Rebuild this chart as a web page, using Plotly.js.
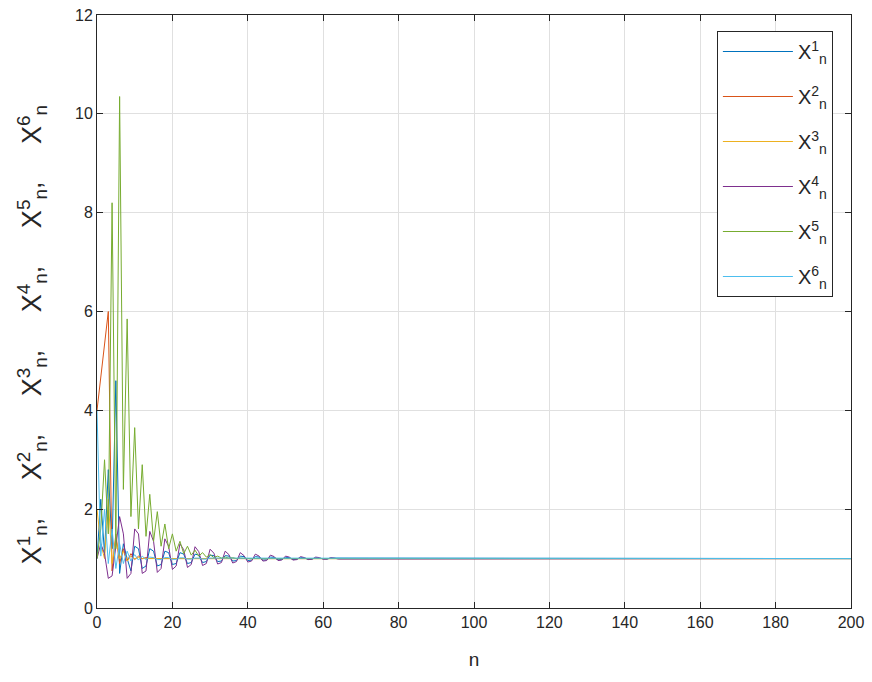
<!DOCTYPE html>
<html>
<head>
<meta charset="utf-8">
<script src="https://cdn.plot.ly/plotly-3.0.1.min.js"></script>
<style>html,body{margin:0;padding:0;background:#fff;}#chart{width:872px;height:682px;}</style>
</head>
<body>
<div id="chart"></div>
<script>
// step index n (explicit), last point is n = 200
const n = [0,1,2,3,4,5,6,7,8,9,10,11,12,13,14,15,16,17,18,19,20,21,22,23,24,25,26,27,28,29,30,
  31,32,33,34,35,36,37,38,39,40,41,42,43,44,45,46,47,48,49,50,51,52,53,54,55,56,57,58,59,60,61,62,63,64,200];

const x1 = [1.0,2.2,1.1,2.8,1.2,4.6,0.7,1.3,1.0,0.75,1.25,1.2,0.8,0.85,1.2,1.15,0.85,0.88,1.15,1.12,0.88,
  0.9,1.12,1.09,0.9,0.92,1.09,1.07,0.92,0.94,1.07,1.06,0.94,0.95,1.06,1.05,0.95,0.96,1.05,1.04,0.96,
  0.97,1.04,1.03,0.97,0.975,1.03,1.025,0.975,0.98,1.025,1.02,0.98,0.985,1.02,1.015,0.985,0.99,1.015,1.01,0.99,
  0.99,1.01,1.01,0.995,1.0];

const x2 = [4.0,4.7,5.35,6.0,0.75,1.5,0.9,1.2,0.95,1.1,0.98,1.05,1.0,1.02,1.0,1.01,1.0,1.0,1.0,1.0,1.0,
  1.0,1.0,1.0,1.0,1.0,1.0,1.0,1.0,1.0,1.0,1.0,1.0,1.0,1.0,1.0,1.0,1.0,1.0,1.0,1.0,
  1.0,1.0,1.0,1.0,1.0,1.0,1.0,1.0,1.0,1.0,1.0,1.0,1.0,1.0,1.0,1.0,1.0,1.0,1.0,1.0,
  1.0,1.0,1.0,1.0,1.0];

const x3 = [2.0,1.3,1.0,2.2,0.9,1.4,1.0,1.15,0.95,1.05,1.0,1.02,1.0,1.0,1.0,1.0,1.0,1.0,1.0,1.0,1.0,
  1.0,1.0,1.0,1.0,1.0,1.0,1.0,1.0,1.0,1.0,1.0,1.0,1.0,1.0,1.0,1.0,1.0,1.0,1.0,1.0,
  1.0,1.0,1.0,1.0,1.0,1.0,1.0,1.0,1.0,1.0,1.0,1.0,1.0,1.0,1.0,1.0,1.0,1.0,1.0,1.0,
  1.0,1.0,1.0,1.0,1.0];

const x4 = [1.0,1.3,1.1,0.6,0.65,1.2,1.85,1.5,0.6,0.7,1.6,1.5,0.7,0.75,1.55,1.35,0.72,0.8,1.4,1.25,0.78,
  0.85,1.3,1.18,0.82,0.88,1.24,1.14,0.86,0.9,1.19,1.11,0.89,0.92,1.15,1.08,0.91,0.94,1.12,1.06,0.93,
  0.95,1.09,1.05,0.95,0.96,1.07,1.04,0.96,0.97,1.05,1.03,0.97,0.98,1.04,1.02,0.98,0.985,1.03,1.02,0.985,
  0.99,1.02,1.01,0.99,1.0];

const x5 = [1.0,1.6,3.0,1.5,8.2,1.2,10.35,2.4,5.85,1.85,3.65,1.6,2.9,1.45,2.3,1.35,1.95,1.25,1.7,1.2,1.5,
  1.15,1.35,1.1,1.25,1.07,1.17,1.05,1.12,1.03,1.08,1.02,1.05,1.01,1.03,1.01,1.02,1.0,1.01,1.0,1.0,
  1.0,1.0,1.0,1.0,1.0,1.0,1.0,1.0,1.0,1.0,1.0,1.0,1.0,1.0,1.0,1.0,1.0,1.0,1.0,1.0,
  1.0,1.0,1.0,1.0,1.0];

const x6 = [4.0,1.05,2.0,0.9,1.6,0.8,1.3,0.9,1.15,0.95,1.08,0.97,1.05,0.98,1.03,1.02,0.98,0.98,1.02,1.02,0.985,
  0.985,1.015,1.015,0.99,0.99,1.01,1.01,0.99,0.99,1.01,1.01,0.995,0.995,1.005,1.005,0.995,0.995,1.005,1.005,0.995,
  0.995,1.005,1.005,1.0,1.0,1.0,1.0,1.0,1.0,1.0,1.0,1.0,1.0,1.0,1.0,1.0,1.0,1.0,1.0,1.0,
  1.0,1.0,1.0,1.0,1.0];

const seriesNames = ['X<sup>1</sup><sub>n</sub>','X<sup>2</sup><sub>n</sub>','X<sup>3</sup><sub>n</sub>',
  'X<sup>4</sup><sub>n</sub>','X<sup>5</sup><sub>n</sub>','X<sup>6</sup><sub>n</sub>'];
const seriesData = [x1,x2,x3,x4,x5,x6];
const colors = ['#0072BD','#D95319','#EDB120','#7E2F8E','#77AC30','#4DBEEE'];

const xTicks = [0,20,40,60,80,100,120,140,160,180,200];
const yTicks = [0,2,4,6,8,10,12];

const FONT = 'Liberation Sans, Arial, sans-serif';

const traces = seriesData.map((d,i)=>({
  x: n, y: d, type:'scatter', mode:'lines', name: seriesNames[i],
  legendgroup: 'g'+i,
  line:{color:colors[i], width:1}
}));

const axisCommon = {
  showline:true, mirror:'ticks', linecolor:'#262626', linewidth:1,
  ticks:'inside', ticklen:6, tickcolor:'#262626',
  showgrid:true, gridcolor:'#e0e0e0', gridwidth:1, zeroline:false,
  tickfont:{family:FONT, size:16, color:'#262626'}
};

const layout = {
  width:872, height:682,
  margin:{l:97, r:21, t:15, b:74},
  paper_bgcolor:'#fff', plot_bgcolor:'#fff',
  xaxis: Object.assign({}, axisCommon, {
    range:[0,200], tickvals:xTicks, ticktext:xTicks.map(String),
    title:{text:'n', font:{family:FONT, size:19, color:'#262626'}, standoff:22}
  }),
  yaxis: Object.assign({}, axisCommon, {
    range:[0,12], tickvals:yTicks, ticktext:yTicks.map(String)
  }),
  annotations:[{
    text: seriesNames.join(',&nbsp;&nbsp;&nbsp;&nbsp; '),
    xref:'paper', yref:'paper', x:-0.086, y:0.46,
    xanchor:'center', yanchor:'middle', textangle:-90, showarrow:false,
    font:{family:FONT, size:27, color:'#262626'}
  }],
  showlegend:true,
  legend:{
    x:0.976, xanchor:'right', y:0.973, yanchor:'top',
    bgcolor:'#fff', bordercolor:'#262626', borderwidth:1,
    font:{family:FONT, size:20, color:'#262626'},
    itemwidth:70, tracegroupgap:16
  }
};

Plotly.newPlot('chart', traces, layout, {displayModeBar:false, staticPlot:true});
</script>
</body>
</html>
